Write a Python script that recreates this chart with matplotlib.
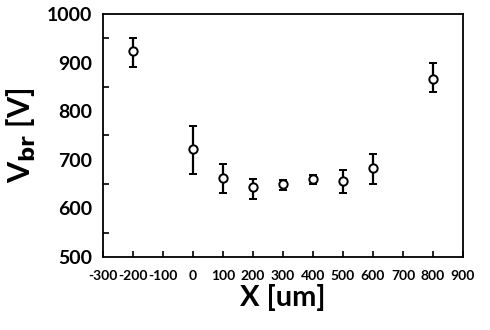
import matplotlib
matplotlib.use('Agg')
import matplotlib.pyplot as plt
import numpy as np
from matplotlib.ticker import MultipleLocator

# data
x_pos = [-200, 0, 100, 200, 300, 400, 500, 600, 800]
vbr = [924, 723, 663, 645, 650, 660, 657, 684, 867]
err_hi = [26, 47, 28, 15, 8, 9, 23, 27, 33]
err_lo = [34, 52, 32, 26, 12, 9, 26, 34, 27]
x_ticks = list(range(-300, 1000, 100))
y_ticks = list(range(500, 1100, 100))

plt.rcParams['font.family'] = ['Lato', 'DejaVu Sans']
plt.rcParams['axes.unicode_minus'] = False

fig = plt.figure(figsize=(4.9, 3.3), dpi=100)
ax = fig.add_axes([0.21, 0.221, 0.735, 0.737])

ax.errorbar(x_pos, vbr, yerr=[err_lo, err_hi], fmt='o', mfc='white', mec='black',
            ms=6, mew=1.4, ecolor='black', elinewidth=1.6, capsize=3, capthick=1.6)

ax.set_xlim(-300, 900)
ax.set_ylim(500, 1000)
ax.set_xticks(x_ticks)
ax.set_yticks(y_ticks)
ax.yaxis.set_minor_locator(MultipleLocator(50))
ax.tick_params(axis='x', direction='in', length=4, width=1.2, labelsize=10, pad=9)
ax.tick_params(axis='y', which='major', length=0, labelsize=14, pad=8)
ax.tick_params(axis='y', which='minor', direction='in', length=4, width=1.2)
for lab in ax.get_yticklabels():
    lab.set_fontweight('bold')
for lab in ax.get_xticklabels():
    lab.set_fontweight('bold')
for s in ax.spines.values():
    s.set_linewidth(1.3)

ax.set_xlabel('X [um]', fontsize=21, fontweight='bold', labelpad=2)
ax.set_ylabel(r'V$_{\mathbf{br}}$ [V]', fontsize=22, fontweight='bold', labelpad=6)

fig.savefig('out.png', dpi=100)
